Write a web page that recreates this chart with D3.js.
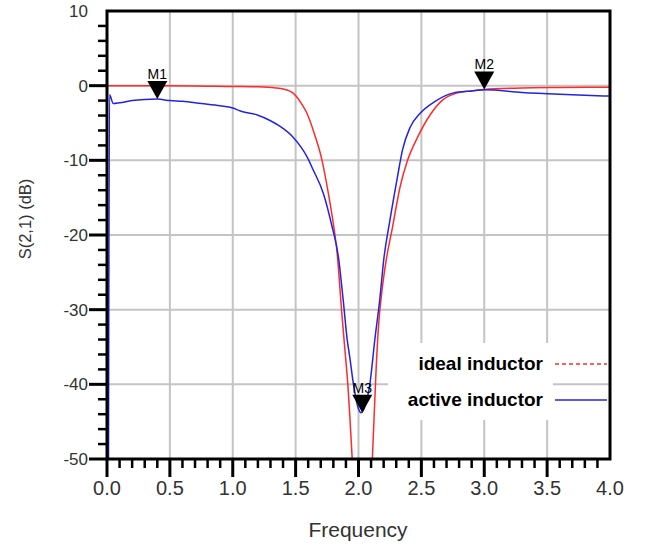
<!DOCTYPE html>
<html>
<head>
<meta charset="utf-8">
<script src="https://cdn.jsdelivr.net/npm/d3@7/dist/d3.min.js"></script>
<style>
  body { margin: 0; background: #fff; }
  svg { display: block; }
</style>
</head>
<body>
<div id="chart"></div>
<script>
// S(2,1) of a notch filter, ideal vs active inductor

const xTicks = [0.0, 0.5, 1.0, 1.5, 2.0, 2.5, 3.0, 3.5, 4.0];
const yTicks = [10, 0, -10, -20, -30, -40, -50];

const idealFreq = [0.0, 0.5, 1.0, 1.2, 1.34, 1.45, 1.48, 1.55, 1.59, 1.65, 1.71, 1.76, 1.80, 1.83,
  1.865, 1.89, 1.915, 1.95, 1.98, 2.03, 2.08, 2.11, 2.125, 2.14, 2.16, 2.19, 2.22, 2.27, 2.33,
  2.39, 2.47, 2.57, 2.67, 2.78, 2.9, 3.0, 3.3, 3.6, 4.0];
const idealDb = [0, 0, -0.1, -0.15, -0.3, -0.7, -1.0, -2.5, -3.7, -6.5, -10, -14.4, -18.5, -22.4,
  -30, -35, -40, -50, -60, -70, -60, -50, -44, -38, -32, -27, -23.4, -19, -13.6,
  -10, -6.9, -3.9, -1.9, -1.0, -0.7, -0.5, -0.3, -0.25, -0.2];

const activeFreq = [0.012, 0.02, 0.05, 0.1, 0.2, 0.3, 0.4, 0.5, 0.6, 0.75, 0.9, 1.0, 1.06, 1.19,
  1.3, 1.38, 1.48, 1.55, 1.59, 1.64, 1.72, 1.79, 1.84, 1.88, 1.91, 1.93, 1.96, 2.0, 2.02, 2.05,
  2.09, 2.13, 2.17, 2.2, 2.25, 2.31, 2.35, 2.41, 2.49, 2.6, 2.75, 2.9, 3.0, 3.3, 3.6, 4.0];
const activeDb = [-50, -1.2, -2.4, -2.3, -2.0, -1.85, -1.8, -2.0, -2.1, -2.4, -2.7, -3.0, -3.4, -3.9,
  -4.7, -5.5, -6.9, -8.4, -9.5, -11.3, -14.4, -18.9, -22.9, -29, -34, -36.3, -40, -43.3, -43.8, -43,
  -40, -34, -28.5, -23.4, -18, -12.2, -8.6, -5.6, -3.7, -2.2, -1.0, -0.7, -0.55, -0.9, -1.15, -1.4];

const markers = [
  { name: "M1", freq: 0.4, db: -1.8 },
  { name: "M2", freq: 3.0, db: -0.5 },
  { name: "M3", freq: 2.03, db: -43.8 }
];

const series = [
  { label: "ideal inductor", freq: idealFreq, db: idealDb, color: "#ff2a2a", dash: "4,3" },
  { label: "active inductor", freq: activeFreq, db: activeDb, color: "#2424e0", dash: null }
];

const width = 647, height = 550;
const margin = { top: 11, right: 37, bottom: 91, left: 107 };

const x = d3.scaleLinear([0, 4], [margin.left, width - margin.right]);
const y = d3.scaleLinear([-50, 10], [height - margin.bottom, margin.top]);

const svg = d3.select("#chart").append("svg")
  .attr("width", width)
  .attr("height", height)
  .style("font-family", "Arial, 'Liberation Sans', sans-serif");

svg.append("defs").append("clipPath").attr("id", "plot")
  .append("rect")
  .attr("x", x(0)).attr("y", y(10))
  .attr("width", x(4) - x(0)).attr("height", y(-50) - y(10));

// grid
const grid = svg.append("g").attr("stroke", "#c4c4c4").attr("stroke-width", 2);
grid.selectAll("line.v").data(xTicks.slice(1, -1)).join("line")
  .attr("x1", d => x(d)).attr("x2", d => x(d))
  .attr("y1", y(10)).attr("y2", y(-50));
grid.selectAll("line.h").data(yTicks.slice(1, -1)).join("line")
  .attr("x1", x(0)).attr("x2", x(4))
  .attr("y1", d => y(d)).attr("y2", d => y(d));

// legend backdrop hides the grid behind the labels
svg.append("rect")
  .attr("x", 388).attr("y", 343).attr("width", 165).attr("height", 77)
  .attr("fill", "#fff");

// curves
const line = d3.line().x(d => x(d[0])).y(d => y(d[1])).curve(d3.curveMonotoneX);
svg.append("g").attr("clip-path", "url(#plot)")
  .selectAll("path").data(series).join("path")
  .attr("fill", "none")
  .attr("stroke", d => d.color)
  .attr("stroke-width", 1.5)
  .attr("d", d => line(d3.zip(d.freq, d.db)));

// frame
svg.append("rect")
  .attr("x", x(0)).attr("y", y(10))
  .attr("width", x(4) - x(0)).attr("height", y(-50) - y(10))
  .attr("fill", "none").attr("stroke", "#000").attr("stroke-width", 3);

// x axis ticks
const xMinor = d3.range(1, 40).map(i => i / 10);
const isHalf = d => Math.abs(d * 2 - Math.round(d * 2)) < 1e-6;
svg.append("g").attr("stroke", "#000")
  .selectAll("line").data(xMinor).join("line")
  .attr("x1", d => x(d)).attr("x2", d => x(d))
  .attr("y1", y(-50))
  .attr("y2", d => y(-50) + (isHalf(d) ? 18 : 9))
  .attr("stroke-width", d => (isHalf(d) ? 3 : 2.5));
svg.append("line").attr("stroke", "#000").attr("stroke-width", 3)
  .attr("x1", x(0)).attr("x2", x(0)).attr("y1", y(-50)).attr("y2", y(-50) + 18);

svg.append("g").attr("fill", "#333").attr("font-size", 20).attr("text-anchor", "middle")
  .selectAll("text").data(xTicks).join("text")
  .attr("x", d => x(d)).attr("y", y(-50) + 36)
  .text(d => d.toFixed(1));

// y axis ticks
const yMinor = d3.range(-48, 10, 2);
svg.append("g").attr("stroke", "#000")
  .selectAll("line").data(yMinor).join("line")
  .attr("y1", d => y(d)).attr("y2", d => y(d))
  .attr("x2", x(0))
  .attr("x1", d => x(0) - (d % 10 === 0 ? 18 : 9))
  .attr("stroke-width", d => (d % 10 === 0 ? 3 : 2.5));
svg.append("line").attr("stroke", "#000").attr("stroke-width", 3)
  .attr("x1", x(0) - 18).attr("x2", x(0)).attr("y1", y(-50)).attr("y2", y(-50));

svg.append("g").attr("fill", "#333").attr("font-size", 17).attr("text-anchor", "end")
  .selectAll("text").data(yTicks).join("text")
  .attr("x", x(0) - 19).attr("y", d => y(d)).attr("dy", "0.36em")
  .text(d => d);

// axis titles
svg.append("text")
  .attr("x", 358).attr("y", 537)
  .attr("text-anchor", "middle").attr("font-size", 21).attr("fill", "#333")
  .text("Frequency");
svg.append("text")
  .attr("transform", `translate(31,219) rotate(-90)`)
  .attr("text-anchor", "middle").attr("font-size", 16.5).attr("fill", "#333")
  .text("S(2,1) (dB)");

// markers
const mk = svg.append("g").selectAll("g").data(markers).join("g")
  .attr("transform", d => `translate(${x(d.freq)},${y(d.db)})`);
mk.append("path")
  .attr("d", "M0,0L-10,-18L10,-18Z")
  .attr("fill", "#000");
mk.append("text")
  .attr("y", -20)
  .attr("text-anchor", "middle")
  .attr("font-size", 14)
  .attr("fill", "#000")
  .text(d => d.name);

// legend
const lg = svg.append("g").selectAll("g").data(series).join("g")
  .attr("transform", (d, i) => `translate(0,${364 + i * 36})`);
lg.append("text")
  .attr("x", 543).attr("dy", "0.33em")
  .attr("text-anchor", "end")
  .attr("font-size", 19).attr("font-weight", "bold").attr("fill", "#000")
  .text(d => d.label);
lg.append("line")
  .attr("x1", 555).attr("x2", 607)
  .attr("stroke", d => d.color).attr("stroke-width", 1.5)
  .attr("stroke-dasharray", d => d.dash);
</script>
</body>
</html>
